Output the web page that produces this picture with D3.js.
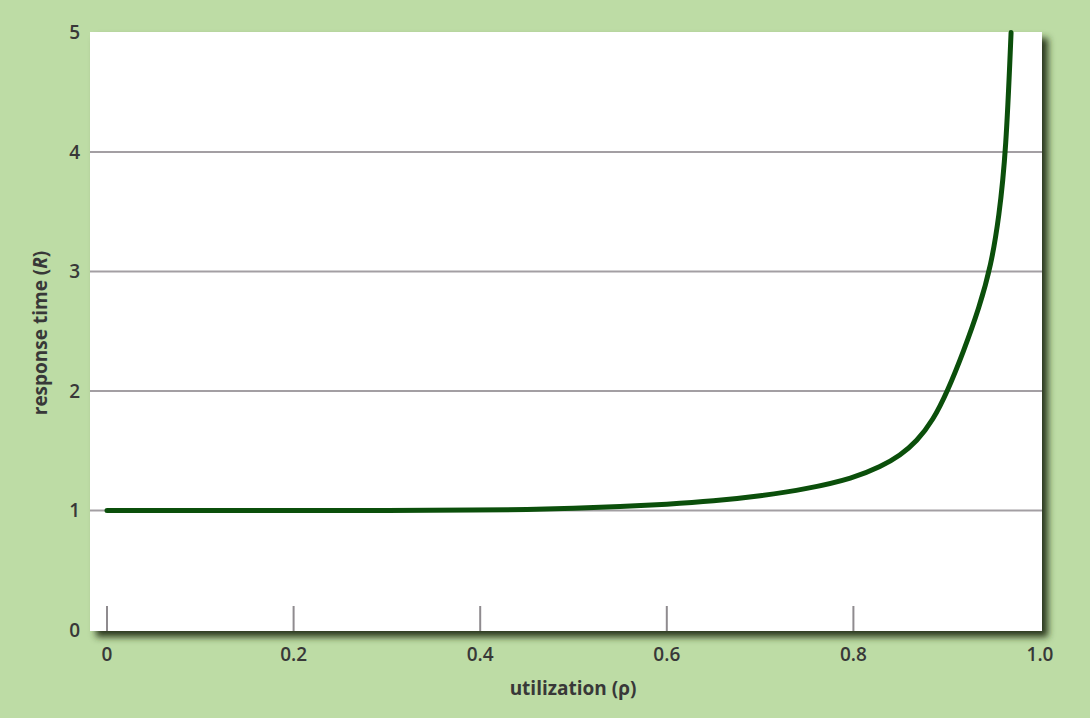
<!DOCTYPE html>
<html><head><meta charset="utf-8">
<script src="https://cdn.jsdelivr.net/npm/d3@7"></script>
<style>
html,body{margin:0;padding:0;background:#bddca5;}
svg{display:block;}
text{font-family:"Open Sans","DejaVu Sans",sans-serif;fill:#383838;}
</style></head>
<body>
<svg id="chart" width="1090" height="718"></svg>
<script>
const utilization = [0, 0.1, 0.2, 0.3, 0.4, 0.45, 0.5, 0.55, 0.6, 0.65, 0.7, 0.75, 0.8, 0.83, 0.85, 0.868, 0.885, 0.901, 0.918, 0.935, 0.9475, 0.956, 0.9636, 0.969];
const responseTime = [1, 1, 1, 1, 1.003, 1.008, 1.017, 1.032, 1.052, 1.078, 1.12, 1.18, 1.27, 1.37, 1.46, 1.58, 1.75, 2.0, 2.33, 2.7, 3.05, 3.45, 4.0, 5.0];
const xTicks = [0, 0.2, 0.4, 0.6, 0.8, 1.0];
const xTickLabels = ["0", "0.2", "0.4", "0.6", "0.8", "1.0"];
const yTicks = [0, 1, 2, 3, 4, 5];

const svg = d3.select("#chart");
const plotL = 90, plotR = 1042, plotT = 32, plotB = 631;
const x = d3.scaleLinear().domain([0, 1]).range([107, 1040]);
const y = d3.scaleLinear().domain([0, 5]).range([630, 32.5]);

const defs = svg.append("defs");
const f = defs.append("filter").attr("id", "shadow").attr("x", "-5%").attr("y", "-5%").attr("width", "115%").attr("height", "115%");
f.append("feDropShadow").attr("dx", 6).attr("dy", 6).attr("stdDeviation", 3.5)
  .attr("flood-color", "#2a371d").attr("flood-opacity", 1);

svg.append("rect").attr("x", plotL).attr("y", plotT).attr("width", plotR - plotL).attr("height", plotB - plotT)
  .attr("fill", "#ffffff").attr("filter", "url(#shadow)");

// gridlines
svg.append("g").selectAll("line").data(yTicks.filter(d => d > 0 && d < 5)).join("line")
  .attr("x1", plotL).attr("x2", plotR).attr("y1", d => y(d)).attr("y2", d => y(d))
  .attr("stroke", "#a39fa3").attr("stroke-width", 2);

// x tick marks (upward inside plot)
svg.append("g").selectAll("line").data(xTicks.filter(d => d < 1)).join("line")
  .attr("x1", d => x(d)).attr("x2", d => x(d)).attr("y1", 606).attr("y2", plotB)
  .attr("stroke", "#8f8b8f").attr("stroke-width", 2);

// y tick labels
svg.append("g").selectAll("text").data(yTicks).join("text")
  .attr("x", 80).attr("y", d => y(d)).attr("dy", "0.36em").attr("text-anchor", "end")
  .attr("font-size", 19).attr("font-weight", 600).text(d => d);

// x tick labels
svg.append("g").selectAll("text").data(xTicks).join("text")
  .attr("x", d => x(d)).attr("y", 661).attr("text-anchor", "middle")
  .attr("font-size", 19).attr("font-weight", 600).text((d, i) => xTickLabels[i]);

// axis titles
svg.append("text").attr("x", 573).attr("y", 695).attr("text-anchor", "middle")
  .attr("font-size", 19).attr("font-weight", 700).text("utilization (ρ)");
const yl = svg.append("text").attr("transform", "translate(47,333) rotate(-90)").attr("text-anchor", "middle")
  .attr("font-size", 19).attr("font-weight", 700);
yl.append("tspan").text("response time (");
yl.append("tspan").attr("font-style", "italic").text("R");
yl.append("tspan").text(")");

// curve
const pts = utilization.map((u, i) => [u, responseTime[i]]);
const line = d3.line().x(d => x(d[0])).y(d => y(d[1])).curve(d3.curveBasis);
svg.append("path").datum(pts).attr("d", line).attr("fill", "none")
  .attr("stroke", "#0b4f0b").attr("stroke-width", 5).attr("stroke-linecap", "round");
</script>
</body></html>
